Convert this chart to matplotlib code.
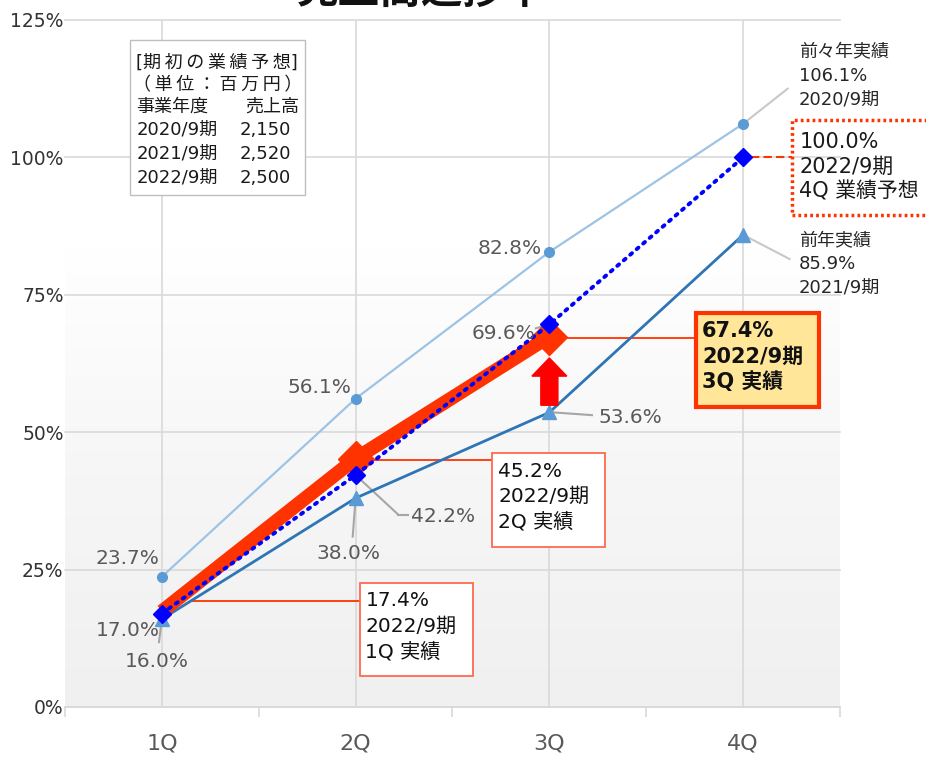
import matplotlib
matplotlib.use("Agg")
import matplotlib.pyplot as plt
import numpy as np
from matplotlib.patches import FancyArrow, Rectangle

plt.rcParams["font.family"] = ["DejaVu Sans", "Noto Sans CJK JP"]

# ------------------------------------------------------------
# Sales progress by quarter (% of initial full-year forecast)
# ------------------------------------------------------------
quarters = ["1Q", "2Q", "3Q", "4Q"]
fy2020_actual = [23.7, 56.1, 82.8, 106.1]   # 前々年実績
fy2021_actual = [16.0, 38.0, 53.6, 85.9]    # 前年実績
fy2022_plan = [17.0, 42.2, 69.6, 100.0]     # 今期 計画
fy2022_actual = [17.4, 45.2, 67.4]          # 今期 実績

y_ticks = [0, 25, 50, 75, 100, 125]
y_tick_labels = ["0%", "25%", "50%", "75%", "100%", "125%"]

forecast_rows = [("2020/9期", "2,150"), ("2021/9期", "2,520"), ("2022/9期", "2,500")]

GRAY_TEXT = "#595959"
LEADER = "#a6a6a6"
RED = "#ff3300"

fig = plt.figure(figsize=(9.26, 7.62), dpi=100)
ax = fig.add_axes([0.0702, 0.0722, 0.8369, 0.9016])

x = np.arange(1, len(quarters) + 1)
PX = 125 / 687.0  # data units per pixel on the y axis

# background gradient inside the plot area (grey at the bottom, white on top)
grad = np.linspace(0.0, 1.0, 256).reshape(-1, 1)
ax.imshow(grad, extent=[0.5, 4.5, 0, 125], aspect="auto", origin="lower",
          cmap=matplotlib.colors.LinearSegmentedColormap.from_list(
              "bg", ["#f0f0f0", "#f6f6f6", "#ffffff", "#ffffff"]),
          zorder=0)

ax.set_xlim(0.5, 4.5)
ax.set_ylim(0, 125)

for yv in y_ticks:
    ax.axhline(yv, color="#d9d9d9", lw=1.2, zorder=1, clip_on=False)
for xv in x:
    ax.axvline(xv, color="#d9d9d9", lw=1.2, zorder=1)

for s in ["top", "right", "left"]:
    ax.spines[s].set_visible(False)
ax.spines["bottom"].set_color("#d9d9d9")
ax.spines["bottom"].set_linewidth(1.2)

ax.set_yticks(y_ticks)
ax.set_yticklabels(y_tick_labels, fontsize=13.5, color="#333333")
ax.tick_params(axis="y", length=0, pad=1)

ax.set_xticks(np.arange(0.5, 4.6, 1.0))
ax.set_xticklabels([])
ax.tick_params(axis="x", which="major", length=7, color="#d9d9d9", width=1.2)
ax.set_xticks(x, minor=True)
ax.set_xticklabels(quarters, minor=True, fontsize=16, color=GRAY_TEXT)
ax.tick_params(axis="x", which="minor", length=0, pad=19)

# series
ax.plot(x, fy2020_actual, color="#9dc3e6", lw=1.6, marker="o", ms=7,
        mfc="#5b9bd5", mec="#5b9bd5", zorder=3)
ax.plot(x, fy2021_actual, color="#2e75b6", lw=2.0, marker="^", ms=10,
        mfc="#5b9bd5", mec="#5b9bd5", zorder=3)
ax.plot(x[:3], fy2022_actual, color=RED, lw=10, marker="D", ms=18,
        markevery=[1, 2], mfc=RED, mec=RED, solid_capstyle="butt", zorder=4)
ax.plot(x, fy2022_plan, color="#0000ff", lw=2.8, ls=(0, (0.6, 1.6)),
        dash_capstyle="round", marker="D", ms=9, mfc="#0000ff", mec="#0000ff", zorder=5)

# red arrow between last year's and this year's 3Q
ax.add_patch(FancyArrow(3, 54.9, 0, 8.6, width=0.088, head_width=0.18,
                        head_length=3.3, length_includes_head=True,
                        color="#ff0000", zorder=6))


def pct(v):
    return f"{v:.1f}%"


def leader(x0, y0, x1, y1, color=LEADER, lw=1.5, ls="-"):
    ax.plot([x0, x1], [y0, y1], color=color, lw=lw, ls=ls, zorder=2.5,
            clip_on=False)


def lines(x0, y_first, pitch_px, rows, **kw):
    # one text per row so the row pitch stays fixed across mixed fonts
    for i, row in enumerate(rows):
        ax.text(x0, y_first - i * pitch_px * PX, row, ha="left", va="center",
                clip_on=False, **kw)


lab = dict(fontsize=14.5, color=GRAY_TEXT, ha="center", va="center", zorder=7)

# data labels
ax.text(0.822, 27.1, pct(fy2020_actual[0]), **lab)
ax.text(0.825, 14.0, pct(fy2022_plan[0]), **lab)
ax.text(0.975, 8.2, pct(fy2021_actual[0]), **lab)
leader(1, fy2021_actual[0], 0.985, 11.8)
ax.text(1.814, 58.2, pct(fy2020_actual[1]), **lab)
ax.text(1.965, 28.0, pct(fy2021_actual[1]), **lab)
leader(2, fy2021_actual[1], 1.985, 31.0)
ax.text(2.45, 34.6, pct(fy2022_plan[1]), **lab)
leader(2, fy2022_plan[1], 2.22, 35.0)
leader(2.22, 35.0, 2.27, 35.0)
ax.text(2.794, 83.5, pct(fy2020_actual[2]), **lab)
ax.text(2.765, 68.0, pct(fy2022_plan[2]), **lab)
leader(2.93, 68.9, 3, fy2022_plan[2])
ax.text(3.42, 52.6, pct(fy2021_actual[2]), **lab)
leader(3.02, 53.6, 3.22, 53.1)

# 4Q labels on the right
side = dict(fontsize=13, color="#262626", zorder=7)
lines(4.289, 119.2, 24, ["前々年実績", pct(fy2020_actual[3]), "2020/9期"], **side)
leader(4, fy2020_actual[3], 4.23, 112.5, color="#c8c8c8")
lines(4.289, 84.8, 23.5, ["前年実績", pct(fy2021_actual[3]), "2021/9期"], **side)
leader(4, fy2021_actual[3], 4.24, 81.5, color="#c8c8c8")

ax.add_patch(Rectangle((4.253, 89.5), 0.75, 17.3, fill=False, edgecolor=RED,
                       lw=2.5, ls=(0, (0.8, 0.9)), clip_on=False, zorder=7))
lines(4.29, 102.8, 24.5, [pct(fy2022_plan[3]), "2022/9期", "4Q 業績予想"],
      fontsize=15, color="#1a1a1a", zorder=8)
leader(4.04, fy2022_plan[3], 4.253, fy2022_plan[3], color=RED, lw=1.5, ls=(0, (4, 2)))

# 2022 actual callouts
boxes = [
    (1, fy2022_actual[0], 19.3, (2.021, 5.6, 0.587, 17.0), "1Q", False),
    (2, fy2022_actual[1], 45.0, (2.706, 29.1, 0.583, 17.1), "2Q", False),
    (3, fy2022_actual[2], 67.1, (3.758, 54.6, 0.634, 17.1), "3Q", True),
]
for qx, val, ly, (bx, by, bw, bh), qname, bold in boxes:
    leader(qx + 0.15 if qx == 1 else qx + 0.05, ly, bx, ly, color=RED, lw=1.3)
    if bold:
        ax.add_patch(Rectangle((bx, by), bw, bh, facecolor="#ffe699",
                               edgecolor=RED, lw=3, zorder=7, clip_on=False))
    else:
        ax.add_patch(Rectangle((bx, by), bw, bh, facecolor="white",
                               edgecolor="#ff6a4d", lw=1.3, zorder=7, clip_on=False))
    lines(bx + 0.03, by + bh - 18 * PX, 25.5,
          [pct(val), "2022/9期", f"{qname} 実績"],
          fontsize=15 if bold else 14.5, color="#111111",
          fontweight="bold" if bold else "normal", zorder=8)

# initial forecast table
ax.add_patch(Rectangle((0.835, 93.2), 0.902, 28.2, facecolor="white",
                       edgecolor="#bfbfbf", lw=1.0, zorder=6))
tbl = dict(fontsize=13, color="#1a1a1a", va="center", zorder=7)
ax.text(0.868, 117.2, "[期\u2009初\u2009の\u2009業\u2009績\u2009予\u2009想]", ha="left", **tbl)
ax.text(1.29, 113.2, "（\u2009単\u2009位\u2009：\u2009百\u2009万\u2009円\u2009）", ha="center", **tbl)
ax.text(0.868, 109.2, "事業年度", ha="left", **tbl)
ax.text(1.428, 109.2, "売上高", ha="left", **tbl)
for i, (fy, amount) in enumerate(forecast_rows):
    ax.text(0.868, 105.0 - i * 4.35, fy, ha="left", **tbl)
    ax.text(1.40, 105.0 - i * 4.35, amount, ha="left", **tbl)

# chart title (sits at the very top edge)
fig.text(0.455, 1 - 3 / 762, "売上高進捗率", fontsize=30, fontweight="bold",
         family="Noto Sans CJK JP", ha="center", va="baseline", color="#111111")

fig.savefig("out.png", dpi=100)
